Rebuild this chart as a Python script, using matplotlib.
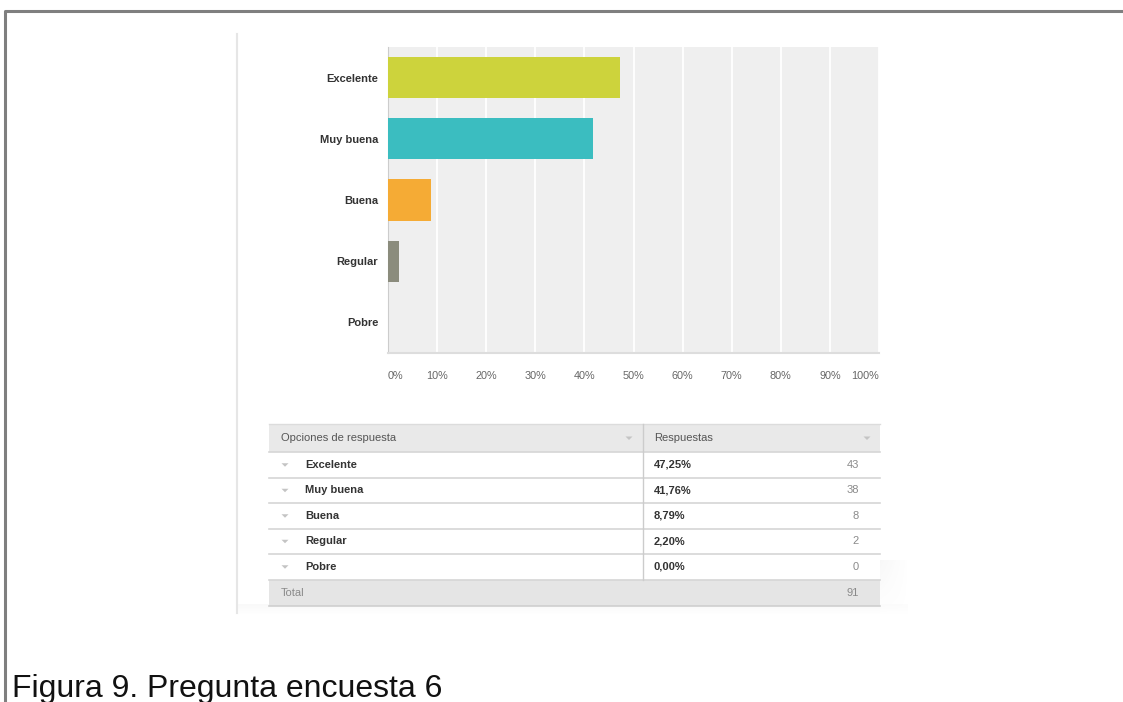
import numpy as np
import matplotlib.pyplot as plt
from matplotlib.patches import Rectangle, Polygon

plt.rcParams['font.family'] = ['Liberation Sans', 'DejaVu Sans']

# Survey answers
categories = ['Excelente', 'Muy buena', 'Buena', 'Regular', 'Pobre']
percentages = [47.25, 41.76, 8.79, 2.20, 0.00]
counts = [43, 38, 8, 2, 0]
total = 91
bar_colors = ['#cdd33c', '#3bbdc0', '#f5ab35', '#8b8c7d', '#bbbbbb']
x_ticks = [0, 10, 20, 30, 40, 50, 60, 70, 80, 90, 100]

W, H = 1123, 702
fig = plt.figure(figsize=(W / 100, H / 100), dpi=100)

# pixel-space canvas for the frame, panel and table
bg = fig.add_axes([0, 0, 1, 1])
bg.set_xlim(0, W)
bg.set_ylim(H, 0)
bg.axis('off')

# page frame
bg.plot([5, 5, W], [H, 11, 11], color='#7f7f7f', lw=2.2, solid_capstyle='butt')

# panel edge and soft shadow near the bottom
bg.plot([237, 237], [34, 613], color='#e6e6e6', lw=1.5)
grad = np.linspace(0, 1, 50).reshape(-1, 1)
bg.imshow(grad, extent=(238, 908, 604, 614), cmap='Greys', vmin=0, vmax=12,
          aspect='auto', alpha=0.6, zorder=0)
gx = np.linspace(1, 0, 60)[None, :]
gy = np.linspace(0, 1, 60)[:, None]
bg.imshow(gx * gy, extent=(880, 908, 560, 614), cmap='Greys', vmin=0, vmax=10,
          aspect='auto', alpha=0.6, zorder=0)

# table
tl, tr, col = 269, 880, 643
head_top, head_bot = 424, 452
row_h = 25.5
body_bot = head_bot + row_h * len(categories)
tot_bot = body_bot + 26

bg.add_patch(Rectangle((tl, head_top), tr - tl, head_bot - head_top,
                       facecolor='#e9e9e9', edgecolor='none', zorder=1))
bg.add_patch(Rectangle((tl, body_bot), tr - tl, tot_bot - body_bot,
                       facecolor='#e5e5e5', edgecolor='none', zorder=1))
bg.add_patch(Rectangle((tl, head_bot), tr - tl, body_bot - head_bot,
                       facecolor='white', edgecolor='none', zorder=1))
bg.plot([tl, tr], [head_top, head_top], color='#dcdcdc', lw=1, zorder=2)
bg.plot([tl, tr], [tot_bot, tot_bot], color='#cfcfcf', lw=1.2, zorder=2)
for i in range(len(categories) + 1):
    y = head_bot + i * row_h
    bg.plot([tl, tr], [y, y], color='#d6d6d6', lw=1.2, zorder=2)
bg.plot([col, col], [head_top, body_bot], color='#cccccc', lw=1, zorder=2)


def caret(x, y, color='#c4c4c4'):
    bg.add_patch(Polygon([[x - 3.5, y - 1.5], [x + 3.5, y - 1.5], [x, y + 2]],
                         closed=True, facecolor=color, edgecolor='none', zorder=3))


hy = (head_top + head_bot) / 2
bg.text(281, hy, 'Opciones de respuesta', fontsize=8, color='#555555', va='center')
bg.text(654, hy, 'Respuestas', fontsize=8, color='#555555', va='center')
caret(629, hy)
caret(867, hy)

for i, (name, pct, n) in enumerate(zip(categories, percentages, counts)):
    y = head_bot + (i + 0.5) * row_h
    caret(285, y)
    bg.text(305, y, name, fontsize=8, fontweight='bold', color='#333333', va='center')
    bg.text(654, y, f'{pct:.2f}'.replace('.', ',') + '%', fontsize=8,
            fontweight='bold', color='#333333', va='center')
    bg.text(859, y, str(n), fontsize=8, color='#8a8a8a', va='center', ha='right')

ty = (body_bot + tot_bot) / 2
bg.text(281, ty, 'Total', fontsize=8, color='#8a8a8a', va='center')
bg.text(859, ty, str(total), fontsize=8, color='#8a8a8a', va='center', ha='right')

# caption
bg.text(12, 697, 'Figura 9. Pregunta encuesta 6', fontsize=23, color='#111111',
        va='baseline')

# bar chart
px_l, px_r, px_t, px_b = 388, 879, 47, 353
ax = fig.add_axes([px_l / W, 1 - px_b / H, (px_r - px_l) / W, (px_b - px_t) / H])
ax.set_facecolor('#efefef')
ypos = np.arange(len(categories))
ax.barh(ypos, percentages, height=0.67, color=bar_colors, zorder=3)
ax.set_xlim(0, 100)
ax.set_ylim(len(categories) - 0.5, -0.5)
ax.set_xticks(x_ticks)
ax.set_xticklabels([f'{t}%' for t in x_ticks])
ax.set_yticks(ypos)
ax.set_yticklabels(categories, fontsize=8, fontweight='bold', color='#333333')
ax.tick_params(axis='x', length=0, pad=13, labelsize=7.8, labelcolor='#666666')
ax.tick_params(axis='y', length=0, pad=7)
ax.xaxis.grid(True, color='white', lw=1.3, zorder=1)
ax.set_axisbelow(True)
for side in ['top', 'right']:
    ax.spines[side].set_visible(False)
ax.spines['left'].set_color('#cccccc')
ax.spines['bottom'].set_color('#dddddd')
ax.spines['bottom'].set_linewidth(1.5)
labels = ax.get_xticklabels()
labels[0].set_horizontalalignment('left')
labels[-1].set_horizontalalignment('right')

fig.savefig('out.png', dpi=100)
